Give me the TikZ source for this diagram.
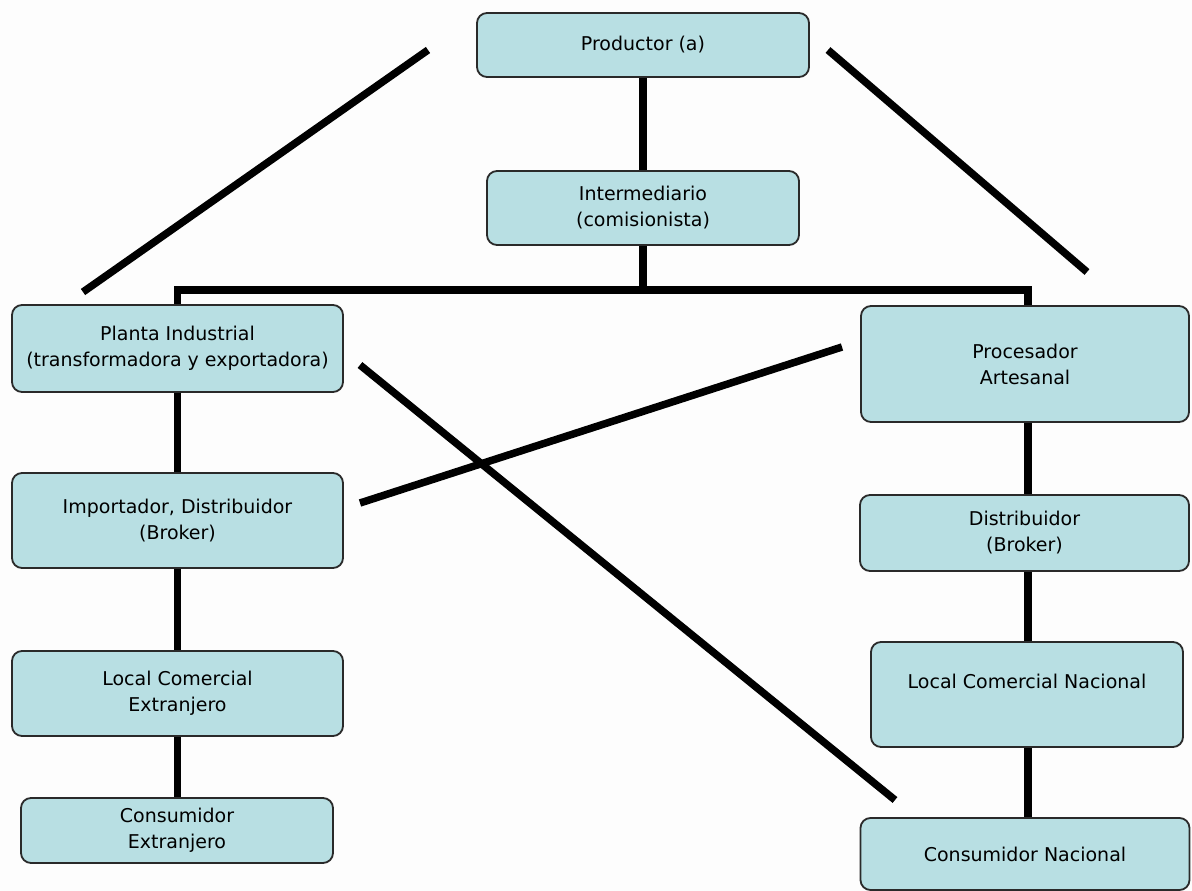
\documentclass[tikz,border=0pt]{standalone}
\usepackage{fontspec}
\setmainfont{DejaVu Sans}
\definecolor{boxfill}{HTML}{B8DFE3}
\definecolor{boxline}{HTML}{2A2A2A}
\definecolor{bgcol}{HTML}{FDFDFD}
\begin{document}
\begin{tikzpicture}[x=1pt,y=-1pt,
  box/.style={draw=boxline,line width=1.8pt,fill=boxfill,rounded corners=10pt,
    align=center,inner sep=0pt,font=\fontsize{19}{26}\selectfont,text=black},
  link/.style={line width=7.5pt,black}]
\fill[bgcol] (0,0) rectangle (1192,891);
\useasboundingbox (0,0) rectangle (1192,891);
% boxes
\node[box,minimum width=332pt,minimum height=64pt] (prod) at (643,45) {Productor (a)};
\node[box,minimum width=312pt,minimum height=74pt] (inter) at (643,208) {Intermediario\\(comisionista)};
\node[box,minimum width=331pt,minimum height=87pt] (planta) at (177.5,348.5) {Planta Industrial\\(transformadora y exportadora)};
\node[box,minimum width=328pt,minimum height=116pt] (proc) at (1025,364) {Procesador\\Artesanal};
\node[box,minimum width=331pt,minimum height=95pt] (impo) at (177.5,520.5) {Importador, Distribuidor\\(Broker)};
\node[box,minimum width=331pt,minimum height=85pt] (localext) at (177.5,693.5) {Local Comercial\\Extranjero};
\node[box,minimum width=312pt,minimum height=65pt] (consext) at (177,830.5) {Consumidor\\Extranjero};
\node[box,minimum width=329pt,minimum height=76pt] (dist) at (1024.5,533) {Distribuidor\\(Broker)};
\node[box,minimum width=312pt,minimum height=105pt] (localnac) at (1027,694.5) {Local Comercial Nacional\\\mbox{}};
\node[box,minimum width=329pt,minimum height=72pt] (consnac) at (1025,854) {Consumidor Nacional};
% tree connectors
\coordinate (bl) at (177.5,290);
\coordinate (br) at (1028,290);
\draw[link] (prod.south) -- (inter.north);
\draw[link] (inter.south) -- (inter.south |- bl);
\draw[link,line join=miter] (planta.north) -- (bl) -- (br) -- (br |- proc.north);
\draw[link] (planta.south) -- (impo.north);
\draw[link] (impo.south) -- (localext.north);
\draw[link] (localext.south) -- (localext.south |- consext.north);
\draw[link] (proc.south -| br) -- (dist.north -| br);
\draw[link] (dist.south -| br) -- (localnac.north -| br);
\draw[link] (localnac.south -| br) -- (consnac.north -| br);
% free diagonal lines
\coordinate (d1a) at (428,50);  \coordinate (d1b) at (83,292);
\coordinate (d2a) at (828,50);  \coordinate (d2b) at (1087,272);
\coordinate (d3a) at (842,347); \coordinate (d3b) at (360,503);
\coordinate (d4a) at (360,365); \coordinate (d4b) at (895,800);
\draw[link] (d1a) -- (d1b);
\draw[link] (d2a) -- (d2b);
\draw[link] (d3a) -- (d3b);
\draw[link] (d4a) -- (d4b);
\end{tikzpicture}
\end{document}
